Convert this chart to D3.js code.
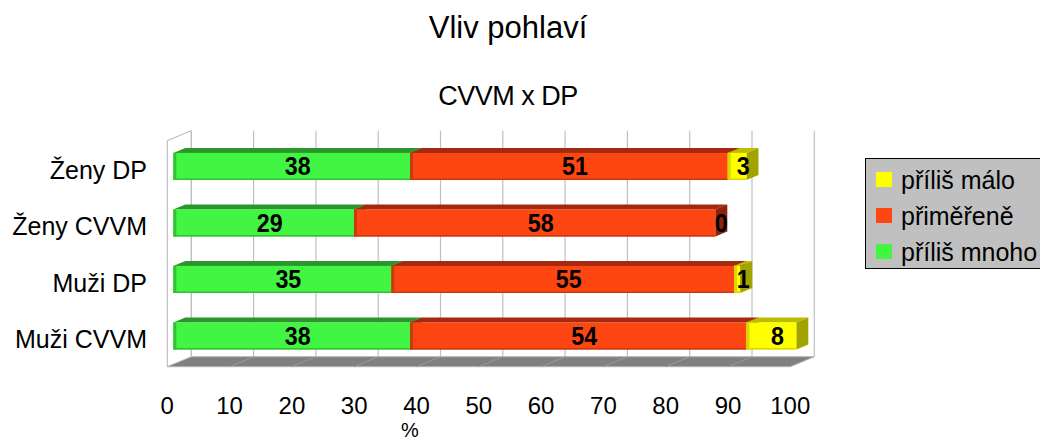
<!DOCTYPE html>
<meta charset="utf-8">
<style>
  body { margin: 0; background: #fff; }
  svg text { font-family: "Liberation Sans", Arial, sans-serif; fill: #000; }
</style>
<svg width="1040" height="441"></svg>
<script src="https://cdn.jsdelivr.net/npm/d3@7"></script>
<script>
  // data
  var categories = ["Ženy DP", "Ženy CVVM", "Muži DP", "Muži CVVM"];
  var seriesNames = ["příliš mnoho", "přiměřeně", "příliš málo"];
  var mnoho = [38, 29, 35, 38];
  var primerene = [51, 58, 55, 54];
  var malo = [3, 0, 1, 8];
  var ticks = [0, 10, 20, 30, 40, 50, 60, 70, 80, 90, 100];
  var legendOrder = ["příliš málo", "přiměřeně", "příliš mnoho"];

  var colors = {
    "příliš mnoho": { front: "#42f542", top: "#2c962c", side: "#249024", edge: "#33c033" },
    "přiměřeně": { front: "#fd4612", top: "#a32a0e", side: "#8c220a", edge: "#c83a10" },
    "příliš málo": { front: "#ffff00", top: "#bcbc00", side: "#a3a300", edge: "#d8d800" }
  };

  var svg = d3.select("svg");

  // front plane of the 3d box, back plane shifted by depth
  var DX = 24, DY = -10;
  var x = d3.scaleLinear().domain([0, 100]).range([167.3, 790.3]);
  var y = d3.scaleBand().domain(categories).range([140.7, 366.7])
    .paddingInner(0.52).paddingOuter(0.26);
  var yTop = 140.7, yBot = 366.7;

  // walls
  var walls = svg.append("g");
  // left wall
  walls.append("path")
    .attr("d", d3.line()([[x(0), yBot], [x(0), yTop], [x(0) + DX, yTop + DY], [x(0) + DX, yBot + DY]]))
    .attr("fill", "#fff").attr("stroke", "#b4b4b4").attr("stroke-width", 1);
  // floor
  walls.append("path")
    .attr("d", d3.line()([[x(0), yBot], [x(0) + DX, yBot + DY], [x(100) + DX, yBot + DY], [x(100), yBot]]) + "Z")
    .attr("fill", "#808080").attr("stroke", "#b4b4b4").attr("stroke-width", 1);
  // back wall gridlines
  walls.selectAll(".grid").data(ticks).enter().append("line")
    .attr("x1", function(d) { return x(d) + DX; })
    .attr("x2", function(d) { return x(d) + DX; })
    .attr("y1", yTop + DY).attr("y2", yBot + DY)
    .attr("stroke", "#c0c0c0").attr("stroke-width", 1.2);
  // floor gridlines
  walls.selectAll(".fgrid").data(ticks.slice(1, -1)).enter().append("line")
    .attr("x1", function(d) { return x(d); })
    .attr("x2", function(d) { return x(d) + DX; })
    .attr("y1", yBot).attr("y2", yBot + DY)
    .attr("stroke", "#9a9a9a").attr("stroke-width", 1);

  // stacked data
  var table = categories.map(function(c, i) {
    return { cat: c, "příliš mnoho": mnoho[i], "přiměřeně": primerene[i], "příliš málo": malo[i] };
  });
  var stacked = d3.stack().keys(seriesNames)(table);

  var f0x = 6, f0y = -2.5;   // bar front offset (quarter depth)
  var bdx = 12, bdy = -5;    // bar depth

  var bars = svg.append("g");
  categories.forEach(function(cat, i) {
    var g = bars.append("g");
    var yt = y(cat) + f0y, h = y.bandwidth();
    stacked.forEach(function(s) {
      var a = s[i][0], b = s[i][1];
      if (b - a <= 0) return;
      var c = colors[s.key];
      var x0 = x(a) + f0x, x1 = x(b) + f0x;
      // top face
      g.append("path")
        .attr("d", d3.line()([[x0, yt], [x0 + bdx, yt + bdy], [x1 + bdx, yt + bdy], [x1, yt]]) + "Z")
        .attr("fill", c.top);
      // right side face
      g.append("path")
        .attr("d", d3.line()([[x1, yt], [x1 + bdx, yt + bdy], [x1 + bdx, yt + h + bdy], [x1, yt + h]]) + "Z")
        .attr("fill", c.side);
      // front face
      g.append("rect")
        .attr("x", x0).attr("y", yt).attr("width", x1 - x0).attr("height", h)
        .attr("fill", c.front);
      g.append("rect")
        .attr("x", x0).attr("y", yt).attr("width", Math.min(3, x1 - x0)).attr("height", h)
        .attr("fill", c.edge);
      g.append("rect")
        .attr("x", x0).attr("y", yt + h - 1.5).attr("width", x1 - x0).attr("height", 1.5)
        .attr("fill", c.edge);
    });
    // value labels (slightly condensed like the original)
    stacked.forEach(function(s) {
      var a = s[i][0], b = s[i][1];
      g.append("text")
        .attr("transform", "translate(" + (x((a + b) / 2) + 12) + "," + (yt + h / 2 + 9) + ") scale(0.93,1)")
        .attr("text-anchor", "middle")
        .style("font-size", "25px").style("font-weight", "bold")
        .text(b - a);
    });
  });

  // category labels
  svg.append("g").selectAll("text").data(categories).enter().append("text")
    .attr("x", 147)
    .attr("y", function(d) { return y(d) + y.bandwidth() / 2 + 10; })
    .attr("text-anchor", "end")
    .style("font-size", "25px")
    .text(function(d) { return d; });

  // x tick labels
  svg.append("g").selectAll("text").data(ticks).enter().append("text")
    .attr("x", function(d) { return x(d); })
    .attr("y", 414)
    .attr("text-anchor", "middle")
    .style("font-size", "24px")
    .text(function(d) { return d; });

  svg.append("text").attr("x", 410).attr("y", 437).attr("text-anchor", "middle")
    .style("font-size", "20px").text("%");

  // titles
  svg.append("text").attr("x", 508).attr("y", 38).attr("text-anchor", "middle")
    .style("font-size", "31px").text("Vliv pohlaví");
  svg.append("text").attr("x", 508).attr("y", 105).attr("text-anchor", "middle")
    .style("font-size", "27px").style("letter-spacing", "-0.5px").text("CVVM x DP");

  // legend
  var legend = svg.append("g");
  legend.append("rect").attr("x", 865.5).attr("y", 158.5).attr("width", 200).attr("height", 110)
    .attr("fill", "#c0c0c0").attr("stroke", "#000").attr("stroke-width", 1);
  var li = legend.selectAll(".li").data(legendOrder).enter().append("g")
    .attr("transform", function(d, i) { return "translate(0," + (i * 36) + ")"; });
  li.append("rect").attr("x", 876).attr("y", 172).attr("width", 16).attr("height", 15)
    .attr("fill", function(d) { return colors[d].front; });
  li.append("text").attr("x", 901).attr("y", 189).style("font-size", "25px")
    .text(function(d) { return d; });
</script>
